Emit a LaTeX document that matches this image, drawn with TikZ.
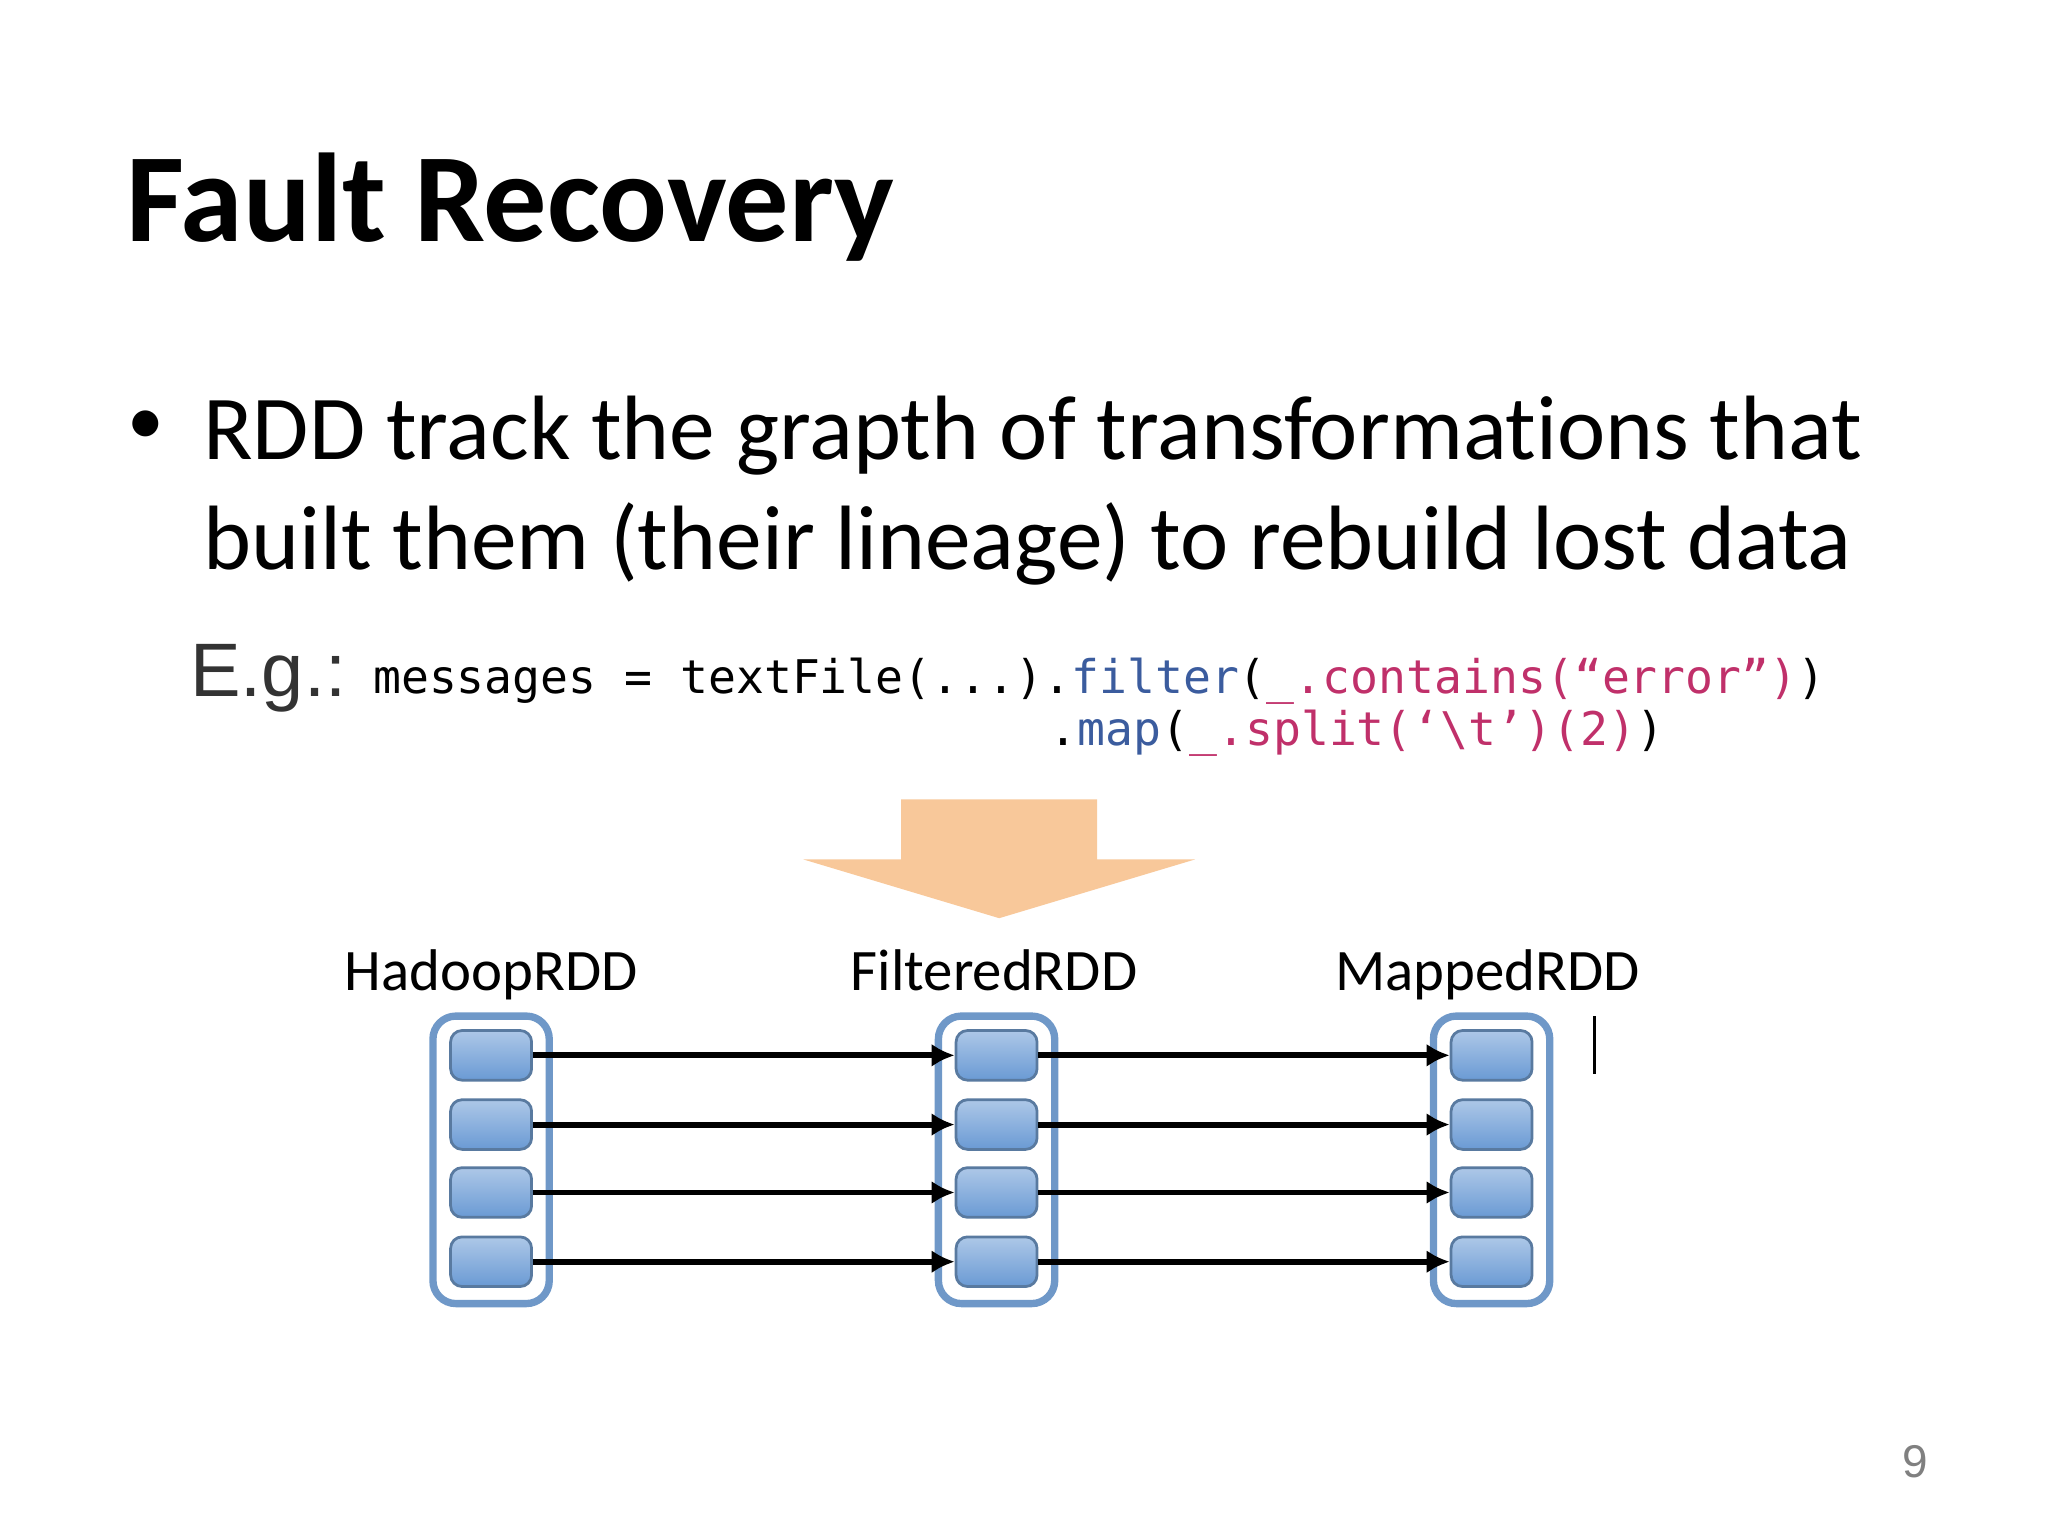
\documentclass[tikz,border=0pt]{standalone}
\usepackage{fontspec}
\setmainfont[Ligatures=CommonOff]{Carlito}
\newfontfamily\codefont{DejaVu Sans Mono}
\newfontfamily\egfont{Liberation Sans}
\usetikzlibrary{arrows.meta}
\definecolor{boxblue}{HTML}{6A9AD4}
\definecolor{boxedge}{HTML}{6F98C8}
\definecolor{arrorange}{HTML}{F8C89A}
\definecolor{kwblue}{HTML}{3B5C9E}
\definecolor{strpink}{HTML}{C0306A}
\tikzset{
  part/.style={draw=boxedge!80!black, line width=0.6pt, rounded corners=2.5pt,
    top color=boxblue!55, bottom color=boxblue, minimum width=0.62cm, minimum height=0.38cm, inner sep=0pt},
  rdd/.style={draw=boxedge, line width=1.6pt, rounded corners=5pt, fill=white, minimum width=0.89cm, minimum height=2.2cm, inner sep=0pt},
  lbl/.style={font=\fontsize{12.8}{15}\selectfont, anchor=base},
  dep/.style={line width=1.3pt, -{Latex[length=5pt,width=5pt]}},
}
\begin{document}
\begin{tikzpicture}[x=0.01cm,y=-0.01cm]
\useasboundingbox (0,0) rectangle (1568,1176);
% title and bullet
\node[anchor=base west, inner sep=0pt, font=\fontsize{27.5}{32}\selectfont\bfseries] (title) at (96,185) {Fault Recovery};
\node[anchor=base west, inner sep=0pt, font=\fontsize{16}{20}\selectfont] (bul) at (97,340) {\textbullet};
\node[anchor=base west, inner sep=0pt, font=\fontsize{19.9}{24}\selectfont] (l1) at (155,352) {RDD track the grapth of transformations that};
\node[anchor=base west, inner sep=0pt, font=\fontsize{19.9}{24}\selectfont] (l2) at (155,436) {built them (their lineage) to rebuild lost data};
% code
\node[anchor=base west, inner sep=0pt, font=\egfont\fontsize{16.5}{20}\selectfont, text=black!80] (eg) at (145,533) {E.g.:};
\node[anchor=base west, inner sep=0pt, font=\codefont\fontsize{10.1}{12}\selectfont] (c1) at (285,531)
  {messages = textFile(...).\textcolor{kwblue}{filter}(\textcolor{strpink}{\_.contains(“error”)})};
\node[anchor=base west, inner sep=0pt, font=\codefont\fontsize{10.1}{12}\selectfont] (c2) at (803,571)
  {.\textcolor{kwblue}{map}(\textcolor{strpink}{\_.split(‘\textbackslash t’)(2)})};
% big arrow
\fill[arrorange] (690,612) -- (840,612) -- (840,658) -- (915,658) -- (765,703) -- (615,658) -- (690,658) -- cycle;
% labels
\node[lbl] (lh) at (376,758) {HadoopRDD};
\node[lbl] (lf) at (761,758) {FilteredRDD};
\node[lbl] (lm) at (1139,758) {MappedRDD};
% containers
\node[rdd] (H) at (376,888) {};
\node[rdd] (F) at (763,888) {};
\node[rdd] (M) at (1142,888) {};
\foreach \i/\y in {1/808,2/861,3/913,4/966}{
  \node[part] (h\i) at (376,\y) {};
  \node[part] (f\i) at (763,\y) {};
  \node[part] (m\i) at (1142,\y) {};
  \draw[dep] (h\i.east) -- (f\i.west);
  \draw[dep] (f\i.east) -- (m\i.west);
}
\coordinate (ct) at (1221,778);
\coordinate (cb) at (1221,822);
\draw[line width=0.6pt] (ct) -- (cb);
\node[anchor=base, inner sep=0pt, font=\egfont\fontsize{10}{12}\selectfont, text=black!50] (pg) at (1466,1131) {9};
\end{tikzpicture}
\end{document}
